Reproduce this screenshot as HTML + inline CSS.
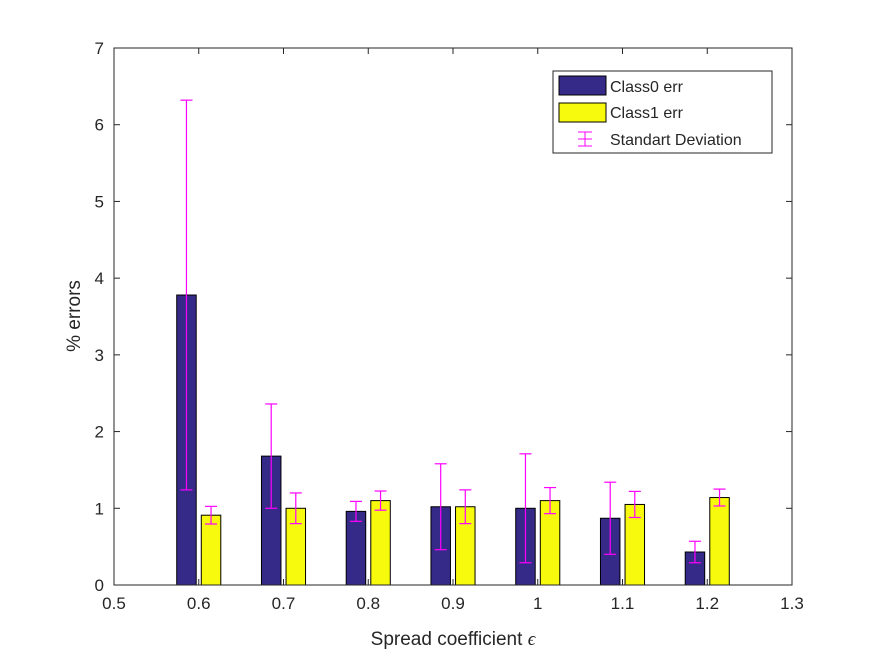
<!DOCTYPE html>
<html><head><meta charset="utf-8"><style>
body{margin:0;background:#fff;}
svg text{font-family:"Liberation Sans",Arial,sans-serif;fill:#262626;}
</style></head><body>
<svg id="chart" width="875" height="656" viewBox="0 0 875 656" xmlns="http://www.w3.org/2000/svg">
<rect x="0" y="0" width="875" height="656" fill="#fff"/>
<g id="marks"></g>
<g id="axes"></g>
<text x="453" y="645" font-size="19" text-anchor="middle">Spread coefficient <tspan font-family="Liberation Serif" font-style="italic">ϵ</tspan></text>
<text transform="translate(80,316) rotate(-90)" font-size="19" text-anchor="middle">% errors</text>
<g>
<rect x="553" y="71" width="219" height="82" fill="#fff" stroke="#262626" stroke-width="1"/>
<rect x="559" y="76" width="47" height="19" fill="#352a87" stroke="#000" stroke-width="1"/>
<text x="610" y="92" font-size="16">Class0 err</text>
<rect x="559" y="103" width="47" height="19" fill="#f8fa0d" stroke="#000" stroke-width="1"/>
<text x="610" y="118" font-size="16">Class1 err</text>
<g stroke="#ff00ff" stroke-width="1">
<line x1="585" y1="132" x2="585" y2="146"/><line x1="578" y1="132" x2="592" y2="132"/><line x1="578" y1="146" x2="592" y2="146"/><line x1="578" y1="139" x2="592" y2="139"/>
</g>
<text x="610" y="145" font-size="16">Standart Deviation</text>
</g>
</svg>
<script>
const categories=[0.6,0.7,0.8,0.9,1.0,1.1,1.2];
const class0Values=[3.78,1.68,0.96,1.02,1.00,0.87,0.43];
const class1Values=[0.91,1.00,1.10,1.02,1.10,1.05,1.14];
const class0Std=[2.54,0.68,0.13,0.56,0.71,0.47,0.14];
const class1Std=[0.115,0.2,0.125,0.22,0.17,0.17,0.11];
const xTicks=[0.5,0.6,0.7,0.8,0.9,1,1.1,1.2,1.3];
const yTicks=[0,1,2,3,4,5,6,7];
const X0=114,X1=792,Y0=585,Y1=48;
const xs=v=>X0+(v-0.5)/0.8*(X1-X0);
const ys=v=>Y0-v/7*(Y0-Y1);
const NS='http://www.w3.org/2000/svg';
function mk(tag,attrs,parent){const e=document.createElementNS(NS,tag);for(const k in attrs)e.setAttribute(k,attrs[k]);parent.appendChild(e);return e;}
const marks=document.getElementById('marks'),axes=document.getElementById('axes');
mk('rect',{x:X0,y:Y1,width:X1-X0,height:Y0-Y1,fill:'#fff',stroke:'none'},marks);
const off=0.0145,bw=0.023;
function bar(cx,v,fill,name){
  const x=xs(cx-bw/2),w=xs(cx+bw/2)-x;
  const r=mk('rect',{x:x,y:ys(v),width:w,height:ys(0)-ys(v),fill:fill,stroke:'#000','stroke-width':1},marks);
  
  
}
function err(cx,v,s,name){
  const g=mk('g',{stroke:'#ff00ff','stroke-width':1.2},marks);
  
  
  const x=xs(cx);
  mk('line',{x1:x,x2:x,y1:ys(v+s),y2:ys(v-s)},g);
  mk('line',{x1:x-6,x2:x+6,y1:ys(v+s),y2:ys(v+s)},g);
  mk('line',{x1:x-6,x2:x+6,y1:ys(v-s),y2:ys(v-s)},g);
}
categories.forEach((c,i)=>{
  bar(c-off,class0Values[i],'#352a87','bar-class0-'+c);
  bar(c+off,class1Values[i],'#f8fa0d','bar-class1-'+c);
});
categories.forEach((c,i)=>{
  err(c-off,class0Values[i],class0Std[i],'errorbar-class0-'+c);
  err(c+off,class1Values[i],class1Std[i],'errorbar-class1-'+c);
});
const frame=mk('rect',{x:X0,y:Y1,width:X1-X0,height:Y0-Y1,fill:'none',stroke:'#262626','stroke-width':1},axes);


xTicks.forEach(t=>{
  const x=xs(t);
  mk('line',{x1:x,x2:x,y1:Y0,y2:Y0-6,stroke:'#262626'},axes);
  mk('line',{x1:x,x2:x,y1:Y1,y2:Y1+6,stroke:'#262626'},axes);
  const tx=mk('text',{x:x,y:Y0+24,'font-size':17,'text-anchor':'middle'},axes);
  tx.textContent=String(t);
  
  
});
yTicks.forEach(t=>{
  const y=ys(t);
  mk('line',{x1:X0,x2:X0+6,y1:y,y2:y,stroke:'#262626'},axes);
  mk('line',{x1:X1,x2:X1-6,y1:y,y2:y,stroke:'#262626'},axes);
  const tx=mk('text',{x:X0-10,y:y+6,'font-size':17,'text-anchor':'end'},axes);
  tx.textContent=String(t);
  
  
});
</script>
</body></html>
